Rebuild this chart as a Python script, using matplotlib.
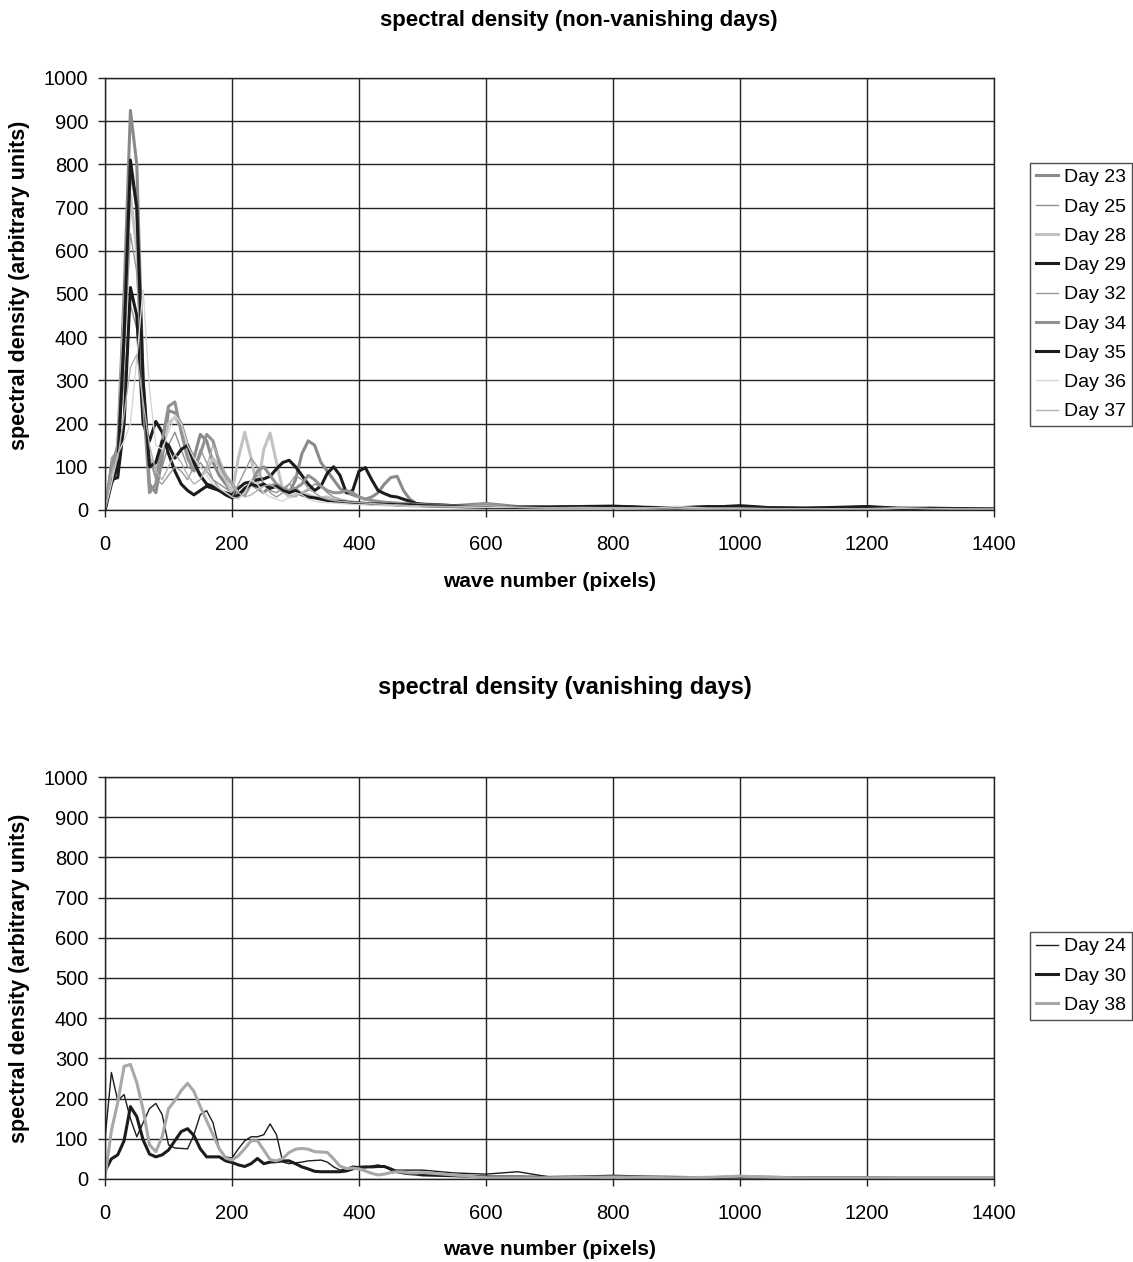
import numpy as np
import matplotlib
matplotlib.use("Agg")
import matplotlib.pyplot as plt

plt.rcParams["font.family"] = ["Liberation Sans", "DejaVu Sans"]
plt.rcParams["lines.solid_joinstyle"] = "round"

# === Wave number grid (pixels) ===
x_near = list(range(0, 500, 10))
x_far = list(range(500, 1401, 50))
wave = np.array(x_near + x_far)

# === Non-vanishing days ===
day23 = [0, 90, 150, 500, 925, 800, 300, 60, 40, 120, 230, 225, 200, 150, 120, 175, 160, 110, 80, 60,
         40, 30, 45, 60, 50, 40, 55, 60, 45, 40, 70, 130, 160, 150, 110, 90, 70, 50, 40, 35,
         30, 25, 30, 40, 60, 75, 78, 45, 25, 15,
         14, 10, 15, 8, 6, 7, 8, 5, 6, 5, 4, 5, 4, 4, 3, 4, 5, 3, 3]
day25 = [0, 110, 150, 300, 475, 420, 250, 120, 80, 100, 150, 180, 140, 100, 90, 110, 90, 70, 60, 50,
         40, 30, 40, 60, 80, 60, 45, 40, 50, 60, 50, 40, 45, 60, 55, 40, 30, 25, 22, 20,
         18, 17, 15, 14, 13, 12, 12, 11, 10, 10,
         10, 8, 12, 7, 6, 6, 5, 5, 6, 4, 4, 4, 3, 3, 4, 3, 3, 3, 2]
day28 = [0, 80, 130, 450, 730, 600, 250, 120, 100, 140, 200, 215, 190, 140, 100, 80, 90, 120, 100, 70,
         40, 120, 180, 120, 50, 140, 178, 110, 45, 30, 35, 40, 35, 30, 28, 30, 25, 22, 20, 18,
         15, 15, 14, 13, 12, 12, 11, 10, 10, 9,
         9, 7, 8, 6, 5, 5, 6, 4, 5, 7, 4, 4, 3, 3, 3, 4, 3, 2, 2]
day29 = [0, 70, 75, 200, 515, 450, 200, 160, 205, 180, 130, 90, 60, 45, 35, 45, 55, 50, 45, 40,
         35, 50, 62, 65, 70, 72, 78, 95, 110, 115, 100, 80, 60, 45, 55, 85, 100, 80, 40, 45,
         90, 98, 70, 45, 38, 32, 30, 25, 20, 15,
         13, 10, 8, 7, 6, 7, 8, 6, 5, 6, 10, 5, 4, 4, 7, 3, 3, 2, 2]
day32 = [0, 120, 140, 350, 640, 550, 250, 120, 70, 60, 80, 100, 90, 70, 100, 140, 110, 70, 50, 40,
         30, 60, 90, 120, 100, 60, 40, 30, 40, 60, 80, 70, 50, 40, 30, 25, 22, 20, 20, 18,
         17, 16, 15, 15, 14, 13, 12, 12, 11, 10,
         10, 8, 15, 7, 6, 5, 6, 5, 4, 5, 4, 4, 3, 3, 3, 3, 4, 3, 2]
day34 = [0, 100, 130, 420, 790, 700, 260, 40, 60, 160, 240, 250, 180, 120, 90, 130, 175, 160, 110, 80,
         60, 40, 35, 60, 90, 100, 80, 60, 50, 45, 50, 60, 80, 70, 55, 45, 40, 40, 45, 40,
         30, 25, 22, 20, 18, 17, 16, 15, 14, 13,
         12, 9, 10, 7, 6, 7, 6, 5, 5, 5, 4, 4, 4, 3, 3, 3, 3, 3, 2]
day35 = [0, 60, 100, 400, 810, 700, 300, 100, 110, 160, 150, 120, 140, 150, 110, 80, 60, 55, 45, 35,
         28, 35, 50, 60, 55, 60, 50, 55, 45, 40, 45, 35, 30, 28, 25, 22, 20, 20, 18, 17,
         16, 15, 14, 14, 13, 13, 12, 12, 12, 11,
         10, 8, 6, 6, 7, 8, 9, 6, 5, 8, 7, 5, 4, 6, 8, 4, 3, 3, 2]
day36 = [0, 60, 130, 160, 200, 350, 510, 280, 150, 140, 180, 220, 200, 150, 120, 100, 80, 60, 50, 40,
         30, 25, 40, 70, 60, 40, 30, 25, 20, 30, 40, 35, 25, 20, 18, 17, 16, 15, 14, 13,
         12, 12, 11, 11, 10, 10, 10, 9, 9, 8,
         8, 7, 6, 6, 5, 5, 5, 4, 8, 4, 4, 3, 3, 3, 3, 4, 3, 2, 2]
day37 = [0, 80, 120, 220, 330, 360, 250, 150, 90, 70, 100, 130, 110, 80, 60, 70, 100, 150, 120, 80,
         60, 40, 30, 35, 45, 55, 60, 50, 40, 35, 30, 40, 50, 40, 30, 25, 22, 20, 19, 18,
         17, 16, 15, 14, 13, 12, 12, 11, 10, 10,
         9, 8, 10, 6, 5, 6, 5, 5, 4, 4, 4, 3, 3, 3, 3, 5, 3, 2, 2]

# === Vanishing days ===
day24 = [100, 265, 195, 210, 150, 105, 140, 175, 188, 160, 85, 77, 76, 75, 110, 160, 170, 140, 75, 55,
         52, 75, 95, 105, 105, 110, 137, 110, 42, 38, 40, 42, 45, 46, 47, 42, 30, 22, 25, 32,
         30, 28, 32, 35, 30, 22, 22, 22, 22, 22,
         22, 15, 12, 18, 5, 5, 6, 4, 4, 4, 5, 3, 3, 3, 3, 3, 2, 2, 2]
day30 = [20, 50, 60, 95, 180, 155, 97, 62, 55, 60, 72, 95, 118, 125, 108, 75, 55, 55, 55, 45,
         41, 35, 31, 38, 51, 38, 42, 43, 45, 45, 38, 30, 25, 19, 18, 18, 18, 18, 20, 25,
         29, 30, 30, 31, 31, 25, 18, 15, 13, 12,
         10, 8, 5, 5, 4, 5, 7, 5, 4, 3, 5, 4, 3, 3, 3, 2, 2, 2, 2]
day38 = [5, 120, 190, 280, 285, 240, 172, 85, 68, 105, 175, 195, 220, 238, 218, 180, 145, 110, 75, 52,
         47, 58, 75, 95, 95, 72, 48, 45, 51, 66, 74, 76, 74, 68, 67, 66, 50, 32, 26, 27,
         25, 20, 14, 10, 12, 16, 18, 17, 15, 15,
         16, 10, 3, 3, 3, 4, 5, 4, 3, 4, 7, 4, 3, 3, 3, 3, 2, 2, 2]

top_series = [("Day 23", day23, "#8a8a8a", 2.2),
              ("Day 25", day25, "#8f8f8f", 1.0),
              ("Day 28", day28, "#c2c2c2", 2.2),
              ("Day 29", day29, "#1c1c1c", 2.2),
              ("Day 32", day32, "#9a9a9a", 1.0),
              ("Day 34", day34, "#929292", 2.2),
              ("Day 35", day35, "#1c1c1c", 2.2),
              ("Day 36", day36, "#d6d6d6", 1.0),
              ("Day 37", day37, "#b2b2b2", 1.0)]
bottom_series = [("Day 24", day24, "#1c1c1c", 1.0),
                 ("Day 30", day30, "#1c1c1c", 2.2),
                 ("Day 38", day38, "#a8a8a8", 2.2)]


def style_axes(ax, xlab_y, ylab_y):
    ax.set_xlim(0, 1400)
    ax.set_ylim(0, 1000)
    ax.set_xticks(range(0, 1401, 200))
    ax.set_yticks(range(0, 1001, 100))
    ax.grid(True, color="#222222", linewidth=1.0)
    ax.set_axisbelow(True)
    for sp in ax.spines.values():
        sp.set_color("#222222")
        sp.set_linewidth(1.0)
    ax.tick_params(labelsize=14.5, length=5, width=1, color="#222222")
    ax.tick_params(axis="x", pad=13)
    ax.tick_params(axis="y", pad=7)
    ax.set_xlabel("wave number (pixels)", fontsize=15, fontweight="bold")
    ax.set_ylabel("spectral density (arbitrary units)", fontsize=15.5, fontweight="bold")
    ax.xaxis.set_label_coords(0.5, xlab_y)
    ax.yaxis.set_label_coords(-0.084, ylab_y)


def add_legend(fig, handles, y_top):
    leg = fig.legend(handles=handles, loc="upper left", bbox_to_anchor=(0.909, y_top),
                     fontsize=14, frameon=True, fancybox=False, edgecolor="#222222",
                     borderaxespad=0, labelspacing=0.6, handlelength=1.15,
                     handletextpad=0.3, borderpad=0.3)
    leg.get_frame().set_linewidth(1.0)


fig = plt.figure(figsize=(11.33, 12.62), dpi=100)

# === Top chart ===
ax1 = fig.add_axes([0.0927, 0.5959, 0.7846, 0.3423])
for name, vals, col, lw in top_series:
    ax1.plot(wave, vals, color=col, linewidth=lw, label=name)
style_axes(ax1, -0.143, 0.52)
fig.text(0.5106, 0.984, "spectral density (non-vanishing days)", ha="center", va="center",
         fontsize=16, fontweight="bold")
add_legend(fig, ax1.get_lines(), 0.871)

# === Bottom chart ===
ax2 = fig.add_axes([0.0927, 0.0658, 0.7846, 0.3185])
for name, vals, col, lw in bottom_series:
    ax2.plot(wave, vals, color=col, linewidth=lw, label=name)
style_axes(ax2, -0.152, 0.5)
fig.text(0.4983, 0.4555, "spectral density (vanishing days)", ha="center", va="center",
         fontsize=17, fontweight="bold")
add_legend(fig, ax2.get_lines(), 0.2615)

fig.savefig("out.png", dpi=100)
